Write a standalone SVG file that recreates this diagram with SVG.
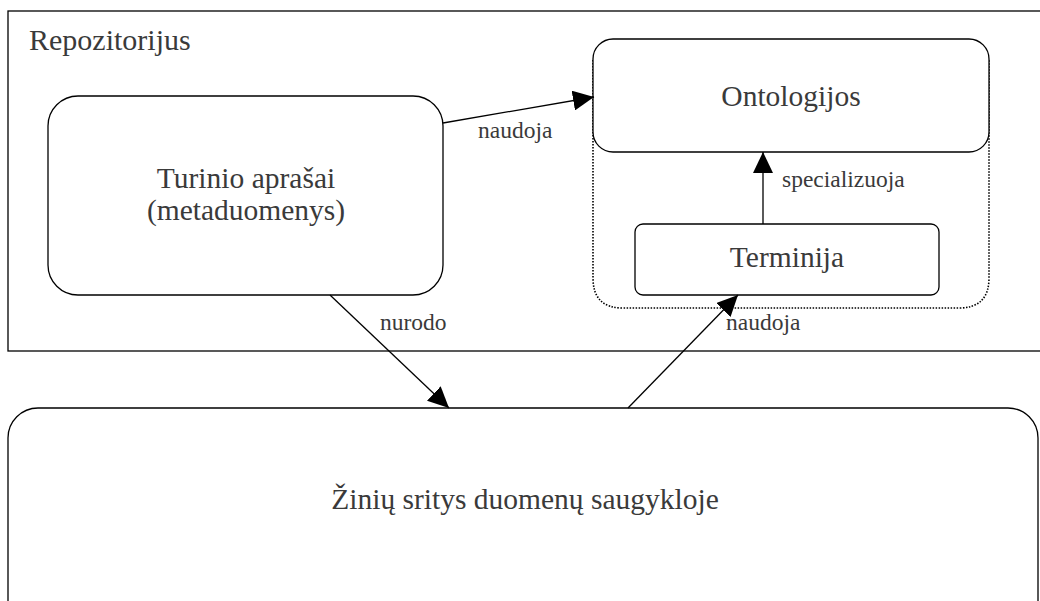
<svg xmlns="http://www.w3.org/2000/svg" width="1040" height="601" viewBox="0 0 1040 601">
  <style>
    .box { fill: #fff; stroke: #000; stroke-width: 1.3; }
    .dotted { fill: none; stroke: #000; stroke-width: 1.6; stroke-dasharray: 1.5 1.5; }
    .big { font-family: "Liberation Serif", "Times New Roman", serif; font-size: 29.5px; fill: #3a3a3a; text-anchor: middle; }
    .title { font-family: "Liberation Serif", "Times New Roman", serif; font-size: 30px; fill: #3a3a3a; }
    .lbl { font-family: "Liberation Serif", "Times New Roman", serif; font-size: 23.5px; fill: #3a3a3a; }
    .conn { stroke: #000; stroke-width: 1.3; fill: none; marker-end: url(#arrow); }
  </style>
  <defs>
    <marker id="arrow" viewBox="0 0 21 20" refX="21" refY="10" markerWidth="21" markerHeight="20" markerUnits="userSpaceOnUse" orient="auto">
      <path d="M0,0 L21,10 L0,20 Z" fill="#000"/>
    </marker>
  </defs>
  <rect width="1040" height="601" fill="#fff"/>

  <g id="repozitorijus">
    <rect x="8" y="11" width="1040" height="340" fill="#fff" stroke="#000" stroke-width="1.3"/>
    <text class="title" x="29" y="50">Repozitorijus</text>
  </g>

  <g id="ontologiju-grupe">
    <path class="dotted" d="M593,60 V278 Q593,308 623,308 H959 Q989,308 989,278 V60"/>
  </g>

  <g id="turinio-aprasai">
    <rect class="box" x="48" y="96" width="395" height="199" rx="30" ry="30"/>
    <text class="big" x="246" y="188">Turinio aprašai</text>
    <text class="big" x="246" y="220">(metaduomenys)</text>
  </g>

  <g id="ontologijos">
    <rect class="box" x="593" y="39" width="396" height="113" rx="20" ry="20"/>
    <text class="big" x="791" y="106">Ontologijos</text>
  </g>

  <g id="terminija">
    <rect class="box" x="635" y="224" width="304" height="71" rx="8" ry="8"/>
    <text class="big" x="787" y="267">Terminija</text>
  </g>

  <g id="ziniu-sritys">
    <rect class="box" x="8" y="408" width="1030" height="230" rx="30" ry="30"/>
    <text class="big" x="525" y="509">Žinių sritys duomenų saugykloje</text>
  </g>

  <g id="connectors">
    <line class="conn" x1="443" y1="123" x2="594" y2="97"/>
    <text class="lbl" x="478" y="138">naudoja</text>
    <line class="conn" x1="763" y1="224" x2="763" y2="152"/>
    <text class="lbl" x="782" y="187">specializuoja</text>
    <line class="conn" x1="330" y1="295" x2="449" y2="408"/>
    <text class="lbl" x="380" y="330">nurodo</text>
    <line class="conn" x1="628" y1="408" x2="738" y2="295"/>
    <text class="lbl" x="726" y="330">naudoja</text>
  </g>
</svg>
